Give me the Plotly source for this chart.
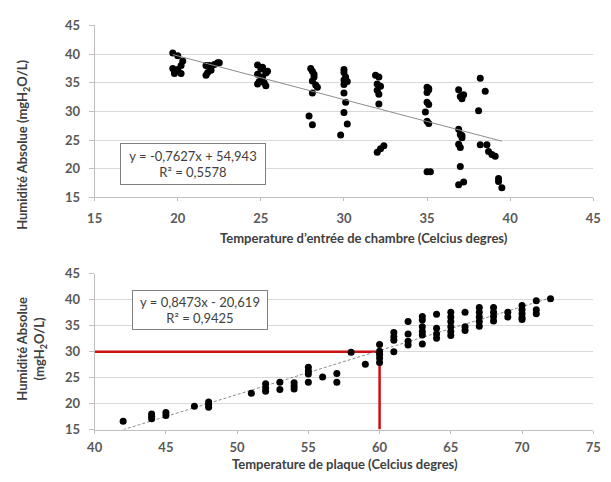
import plotly.graph_objects as go

# ---------------- data ----------------
# Top chart: chamber inlet temperature vs absolute humidity
chamber_temp = [19.7, 20.0, 19.7, 19.8, 19.8, 20.2, 20.2, 20.3, 20.0,
                21.7, 21.8, 21.7, 22.0, 22.0, 22.2, 22.4, 22.5, 21.9,
                24.8, 24.8, 24.9, 24.8, 25.0, 25.1, 25.2, 25.3, 25.4, 25.3, 25.1,
                28.0, 28.1, 28.2, 28.2, 28.1, 28.3, 28.4, 28.1, 27.9, 28.1,
                30.0, 30.0, 30.1, 30.0, 30.2, 30.0, 30.0, 30.1, 30.0, 30.2, 29.8,
                31.9, 32.1, 32.0, 32.2, 32.0, 32.1, 32.1, 32.0, 32.2, 32.4,
                35.0, 35.1, 35.0, 35.0, 35.1, 34.9, 35.0, 35.1, 35.0, 35.2, 35.1,
                36.9, 37.0, 37.1, 37.2, 36.9, 37.0, 37.1, 36.9, 37.0, 37.1, 37.0, 36.9, 37.2,
                38.2, 38.5, 38.1, 38.2, 38.6, 38.7, 38.9, 39.1, 39.3, 39.3, 39.5]
chamber_hum = [40.2, 39.7, 37.5, 37.1, 36.6, 36.6, 38.0, 38.8, 37.3,
               36.3, 36.8, 38.0, 37.7, 37.2, 38.2, 38.5, 38.5, 38.0,
               38.1, 36.5, 35.2, 34.8, 37.4, 36.0, 35.0, 36.7, 37.0, 34.5, 37.7,
               37.5, 37.0, 36.5, 36.0, 35.3, 34.6, 34.2, 33.2, 29.2, 27.7,
               37.3, 36.8, 36.0, 35.5, 35.2, 34.7, 33.2, 31.6, 29.8, 27.8, 25.9,
               36.3, 36.0, 34.8, 34.4, 33.7, 33.0, 31.3, 22.9, 23.5, 24.0,
               34.2, 33.8, 33.3, 31.6, 31.2, 29.9, 28.3, 27.9, 19.5, 19.5, 34.0,
               33.8, 32.6, 32.2, 32.9, 26.9, 26.0, 25.4, 24.3, 23.7, 25.8, 20.4, 17.2, 17.7,
               35.8, 33.5, 30.1, 24.2, 24.2, 23.0, 22.5, 22.2, 18.3, 17.8, 16.7]
fit1_slope, fit1_intercept, fit1_r2 = -0.7627, 54.943, 0.5578
fit1_xrange = [19.7, 39.5]

# Bottom chart: plate temperature vs absolute humidity
plate_temp = [42,
              44, 44, 44, 45, 45, 47, 48, 48, 48,
              51, 52, 52, 52, 53, 53, 54, 54, 54,
              55, 55, 55, 55, 56, 57, 57, 58, 59,
              60, 60, 60, 60, 60,
              61, 61, 61, 61, 62, 62, 62, 62,
              63, 63, 63, 63, 63, 63, 64, 64, 64, 64,
              65, 65, 65, 65, 65, 65, 66, 66, 66,
              67, 67, 67, 67, 67, 68, 68, 68, 68,
              69, 69, 70, 70, 70, 70, 70, 71, 71, 71, 72]
plate_hum = [16.6,
             18.0, 17.5, 17.1, 18.3, 17.7, 19.5, 20.3, 19.8, 19.3,
             22.0, 23.8, 23.0, 22.4, 24.1, 22.7, 24.0, 23.4, 22.8,
             27.0, 26.3, 25.7, 24.1, 25.1, 25.8, 24.1, 29.9, 27.6,
             31.4, 30.1, 29.5, 28.8, 27.9,
             33.7, 32.9, 32.2, 30.0, 35.8, 33.4, 32.0, 31.3,
             36.8, 36.1, 34.8, 33.9, 33.2, 31.5, 37.2, 34.5, 33.4, 32.6,
             37.6, 36.7, 35.8, 34.8, 33.9, 33.1, 37.6, 34.8, 34.1,
             38.5, 37.6, 36.7, 35.8, 34.9, 38.5, 37.6, 36.8, 35.9,
             37.6, 36.7, 38.9, 38.1, 37.3, 36.6, 36.2, 39.8, 38.1, 37.3, 40.2]
fit2_slope, fit2_intercept, fit2_r2 = 0.8473, -20.619, 0.9425
fit2_xrange = [42.0, 72.0]

# Reference threshold (red lines)
ref_plate_temp = 60
ref_humidity = 30

x1_ticks = [15, 20, 25, 30, 35, 40, 45]
x2_ticks = [40, 45, 50, 55, 60, 65, 70, 75]
y_ticks = [15, 20, 25, 30, 35, 40, 45]

# ---------------- figure ----------------
W, H = 611, 482
FONT = "Lato"
TICK_COLOR = "#595959"
TITLE_COLOR = "#404040"


def px(x):
    return x / W


def py(y):
    return 1 - y / H


fig = go.Figure()

marker = dict(color="black", size=7)

fig.add_trace(go.Scatter(x=chamber_temp, y=chamber_hum, mode="markers",
                         marker=marker, xaxis="x", yaxis="y", showlegend=False))
fig.add_trace(go.Scatter(x=fit1_xrange,
                         y=[fit1_slope * v + fit1_intercept for v in fit1_xrange],
                         mode="lines", line=dict(color="#8c8c8c", width=1),
                         xaxis="x", yaxis="y", showlegend=False))

fig.add_trace(go.Scatter(x=[x2_ticks[0], ref_plate_temp], y=[ref_humidity, ref_humidity],
                         mode="lines", line=dict(color="#cc1010", width=2.5),
                         xaxis="x2", yaxis="y2", showlegend=False))
fig.add_trace(go.Scatter(x=[ref_plate_temp, ref_plate_temp], y=[y_ticks[0], ref_humidity],
                         mode="lines", line=dict(color="#cc1010", width=2.5),
                         xaxis="x2", yaxis="y2", showlegend=False))
fig.add_trace(go.Scatter(x=fit2_xrange,
                         y=[fit2_slope * v + fit2_intercept for v in fit2_xrange],
                         mode="lines", line=dict(color="#8c8c8c", width=1, dash="3px,2px"),
                         xaxis="x2", yaxis="y2", showlegend=False))
fig.add_trace(go.Scatter(x=plate_temp, y=plate_hum, mode="markers",
                         marker=marker, xaxis="x2", yaxis="y2", showlegend=False))

xdom = [px(89), px(601)]
top_dom = [py(196), py(18)]
bot_dom = [py(436), py(275)]

axis_common = dict(
    showgrid=False, zeroline=False, showline=True, linecolor="#bfbfbf", linewidth=1,
    ticks="outside", ticklen=3, tickcolor="#bfbfbf", ticklabeloverflow="allow",
    tickfont=dict(family=FONT, size=13, color=TICK_COLOR, weight="bold"),
)
yaxis_common = dict(
    showgrid=True, gridcolor="#d9d9d9", gridwidth=1, zeroline=False, showline=True,
    linecolor="#bfbfbf", linewidth=1, ticks="outside", ticklen=5, tickcolor="#bfbfbf",
    ticklabelstandoff=6,
    tickfont=dict(family=FONT, size=13, color=TICK_COLOR, weight="bold"),
    tickvals=y_ticks, range=[y_ticks[0], y_ticks[-1]],
)

fig.update_layout(
    width=W, height=H,
    margin=dict(l=0, r=0, t=0, b=0),
    paper_bgcolor="white", plot_bgcolor="white",
    xaxis=dict(domain=xdom, anchor="y", range=[x1_ticks[0], x1_ticks[-1]],
               tickvals=x1_ticks, ticklabelstandoff=6, **axis_common),
    yaxis=dict(domain=top_dom, anchor="x", **yaxis_common),
    xaxis2=dict(domain=xdom, anchor="y2", range=[x2_ticks[0], x2_ticks[-1]],
                tickvals=x2_ticks, ticklabelstandoff=3, **axis_common),
    yaxis2=dict(domain=bot_dom, anchor="x2", **yaxis_common),
)

title_font = dict(family=FONT, size=13, color=TITLE_COLOR, weight="bold")
box_font = dict(family=FONT, size=13, color=TITLE_COLOR)

annotations = [
    dict(text="Temperature d\u2019entrée de chambre (Celcius degres)",
         x=px(366), y=py(238), xref="paper", yref="paper",
         xanchor="center", yanchor="middle", showarrow=False, font=title_font),
    dict(text="Temperature de plaque (Celcius degres)",
         x=px(346), y=py(472), xref="paper", yref="paper",
         xanchor="center", yanchor="middle", showarrow=False, font=title_font),
    dict(text="Humidité Absolue (mgH<sub>2</sub>O/L)",
         x=px(16), y=py(142), xref="paper", yref="paper", textangle=-90,
         xanchor="center", yanchor="middle", showarrow=False, font=title_font),
    dict(text="Humidité Absolue<br>(mgH<sub>2</sub>O/L)",
         x=px(24), y=py(352), xref="paper", yref="paper", textangle=-90,
         xanchor="center", yanchor="middle", showarrow=False, font=title_font),
    dict(text=f"y = {fit1_slope:.4f}x + {fit1_intercept:.3f}".replace(".", ",")
         + f"<br>R² = {fit1_r2:.4f}".replace(".", ","),
         x=px(190), y=py(161), xref="paper", yref="paper",
         xanchor="center", yanchor="middle", showarrow=False, font=box_font,
         bordercolor="#808080", borderwidth=1, bgcolor="white",
         width=142, height=38),
    dict(text=f"y = {fit2_slope:.4f}x - {abs(fit2_intercept):.3f}".replace(".", ",")
         + f"<br>R² = {fit2_r2:.4f}".replace(".", ","),
         x=px(197), y=py(312), xref="paper", yref="paper",
         xanchor="center", yanchor="middle", showarrow=False, font=box_font,
         bordercolor="#808080", borderwidth=1, bgcolor="white",
         width=132, height=36),
]
fig.update_layout(annotations=annotations)

fig.write_html(
    "out.html",
    config={"displayModeBar": False},
    post_script="document.body.style.margin='0';document.body.style.overflow='hidden';",
)
